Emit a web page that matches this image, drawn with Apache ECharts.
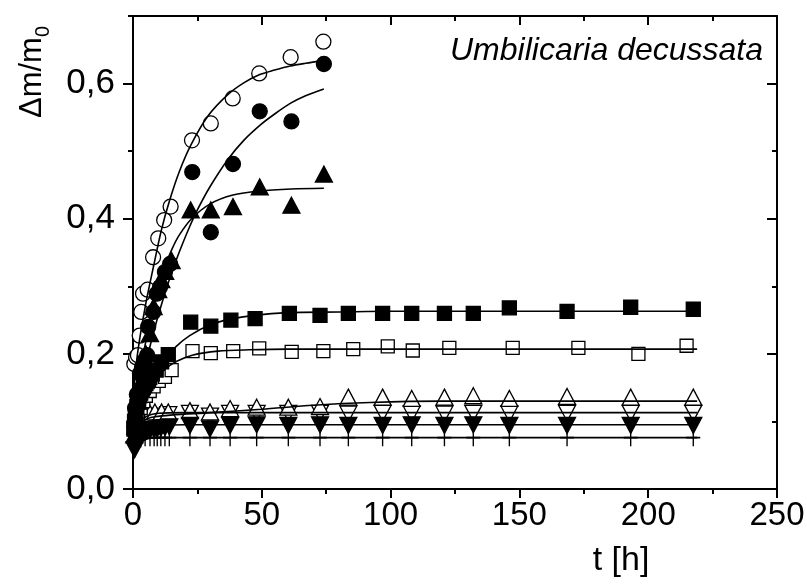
<!DOCTYPE html>
<html>
<head>
<meta charset="utf-8">
<script src="https://cdn.jsdelivr.net/npm/echarts@6/dist/echarts.min.js"></script>
<style>
html,body{margin:0;padding:0;background:#fff}
#main{width:807px;height:586px}
</style>
</head>
<body>
<div id="main"></div>
<script>
// measured points, t [h] and dm/m0
var ocT = [0.5, 1.2, 1.9, 2.6, 3.2, 3.9, 5.7, 7.8, 9.8, 12.1, 14.6, 22.9, 30.2, 38.7, 49.0, 61.2, 73.9];
var ocY = [0.185, 0.195, 0.198, 0.227, 0.262, 0.289, 0.295, 0.343, 0.371, 0.398, 0.418, 0.516, 0.541, 0.578, 0.615, 0.639, 0.662];
var fcT = [0.8, 1.5, 2.7, 3.5, 4.5, 5.5, 5.9, 7.9, 9.2, 10.5, 12.4, 14.4, 23.0, 30.2, 38.8, 49.2, 61.5, 74.1];
var fcY = [0.12, 0.14, 0.171, 0.18, 0.19, 0.198, 0.240, 0.262, 0.289, 0.299, 0.321, 0.333, 0.469, 0.380, 0.481, 0.559, 0.544, 0.629];
var ftT = [0.5, 1.2, 2.0, 3.0, 4.0, 5.0, 6.6, 8.0, 9.8, 11.0, 12.5, 15.0, 22.4, 30.2, 38.8, 49.2, 61.5, 74.1];
var ftY = [0.08, 0.11, 0.13, 0.15, 0.175, 0.2, 0.23, 0.27, 0.295, 0.31, 0.322, 0.338, 0.413, 0.413, 0.418, 0.447, 0.420, 0.466];
var fsT = [0.3, 0.6, 0.9, 1.2, 1.5, 1.8, 2.2, 2.6, 3.0, 3.5, 4.0, 4.5, 5.0, 5.5, 6.0, 6.5, 7.5, 9.0, 11.1, 13.7, 22.4, 30.2, 38.0, 47.4, 60.7, 72.6, 83.6, 96.9, 108.2, 120.9, 132.1, 146.1, 168.5, 193.2, 217.5];
var fsY = [0.09, 0.10, 0.108, 0.115, 0.122, 0.128, 0.133, 0.138, 0.142, 0.146, 0.15, 0.153, 0.156, 0.159, 0.162, 0.165, 0.17, 0.176, 0.188, 0.199, 0.247, 0.241, 0.250, 0.252, 0.260, 0.257, 0.260, 0.260, 0.260, 0.260, 0.260, 0.268, 0.263, 0.269, 0.266];
var osT = [0.5, 1.0, 2.0, 3.0, 4.0, 5.0, 6.5, 8.0, 10.0, 12.4, 15.0, 23.1, 30.2, 38.9, 49.0, 61.6, 73.9, 85.5, 98.9, 108.6, 122.8, 147.4, 172.9, 196.2, 214.9];
var osY = [0.09, 0.10, 0.11, 0.12, 0.13, 0.138, 0.145, 0.152, 0.16, 0.166, 0.176, 0.204, 0.201, 0.204, 0.208, 0.203, 0.204, 0.207, 0.211, 0.205, 0.209, 0.209, 0.209, 0.200, 0.212];
var ouT = [1.0, 2.0, 3.0, 4.0, 5.0, 6.6, 8.5, 11.1, 13.7, 22.1, 29.9, 37.7, 48.0, 60.3, 72.6, 83.6, 96.9, 108.2, 120.9, 132.1, 146.1, 168.5, 193.2, 217.5];
var ouY = [0.09, 0.095, 0.10, 0.105, 0.108, 0.112, 0.114, 0.114, 0.114, 0.116, 0.114, 0.119, 0.121, 0.121, 0.122, 0.136, 0.136, 0.134, 0.136, 0.138, 0.134, 0.137, 0.136, 0.136];
var odT = [1.0, 2.0, 3.0, 4.0, 5.0, 6.6, 8.5, 11.1, 13.7, 22.1, 29.9, 37.7, 48.0, 60.3, 72.6, 83.6, 96.9, 108.2, 120.9, 132.1, 146.1, 168.5, 193.2, 217.5];
var odY = [0.08, 0.085, 0.09, 0.095, 0.1, 0.103, 0.106, 0.108, 0.11, 0.112, 0.108, 0.112, 0.112, 0.112, 0.112, 0.111, 0.112, 0.111, 0.111, 0.112, 0.111, 0.112, 0.112, 0.112];
var fdT = [0.6, 1.0, 2.0, 3.0, 4.0, 5.0, 6.6, 8.2, 9.4, 10.8, 12.4, 14.1, 22.1, 29.9, 37.7, 48.0, 60.3, 72.6, 83.6, 96.9, 108.2, 120.9, 132.1, 146.1, 168.5, 193.2, 217.5];
var fdY = [0.058, 0.07, 0.075, 0.08, 0.083, 0.085, 0.087, 0.088, 0.089, 0.090, 0.091, 0.092, 0.094, 0.089, 0.094, 0.095, 0.094, 0.095, 0.094, 0.094, 0.095, 0.094, 0.095, 0.094, 0.094, 0.094, 0.094];
var plT = [1.0, 2.0, 3.0, 4.7, 6.6, 8.2, 9.4, 10.8, 12.4, 14.1, 22.1, 29.9, 37.7, 48.0, 60.3, 72.6, 83.6, 96.9, 108.2, 120.9, 132.1, 146.1, 168.5, 193.2, 217.5];
var plY = [0.068, 0.072, 0.074, 0.076, 0.076, 0.076, 0.076, 0.076, 0.076, 0.076, 0.076, 0.076, 0.076, 0.076, 0.076, 0.076, 0.076, 0.076, 0.076, 0.076, 0.076, 0.076, 0.076, 0.076, 0.076];

// fitted curves
var ocFitT = [0.3, 2, 5, 8, 11, 14.2, 18, 22.6, 29.1, 36.9, 43, 49, 55, 61, 67, 74];
var ocFitY = [0.15, 0.207, 0.275, 0.33, 0.383, 0.427, 0.47, 0.51, 0.552, 0.584, 0.601, 0.613, 0.62, 0.626, 0.63, 0.634];
var fcFitT = [0.3, 3, 6, 9, 12, 15, 18, 21.4, 25, 30, 36.9, 43, 49.8, 55, 61.2, 67, 74.1];
var fcFitY = [0.1, 0.154, 0.202, 0.246, 0.285, 0.32, 0.351, 0.383, 0.413, 0.448, 0.488, 0.516, 0.54, 0.555, 0.571, 0.582, 0.592];
var ftFitT = [0.3, 3, 6, 9, 12, 15, 18, 23, 30, 38.8, 49, 61.5, 74.1];
var ftFitY = [0.1, 0.175, 0.239, 0.288, 0.326, 0.354, 0.376, 0.401, 0.422, 0.435, 0.441, 0.444, 0.445];
var fsFitT = [0.3, 3, 6, 9, 12.3, 16.8, 22, 30, 37.4, 47, 60, 80, 100, 150, 219];
var fsFitY = [0.092, 0.123, 0.15, 0.172, 0.191, 0.211, 0.227, 0.243, 0.251, 0.257, 0.261, 0.262, 0.263, 0.263, 0.263];
var osFitT = [0.3, 4, 8, 12.3, 17, 23, 33, 45, 60, 100, 150, 219];
var osFitY = [0.094, 0.132, 0.159, 0.177, 0.189, 0.198, 0.204, 0.206, 0.207, 0.207, 0.207, 0.207];
var ouFitT = [0.3, 3, 8.5, 30, 50, 70, 92, 120, 160, 219];
var ouFitY = [0.08, 0.098, 0.107, 0.113, 0.118, 0.124, 0.128, 0.130, 0.130, 0.130];
var odFitT = [0.3, 2, 5, 10, 20, 60, 219];
var odFitY = [0.07, 0.095, 0.107, 0.112, 0.113, 0.113, 0.113];
var fdFitT = [0.3, 2, 5, 10, 20, 60, 219];
var fdFitY = [0.06, 0.08, 0.089, 0.093, 0.095, 0.095, 0.095];
var plFitT = [0.3, 2, 5, 10, 60, 219];
var plFitY = [0.062, 0.07, 0.074, 0.076, 0.076, 0.076];

var yMajor = [0, 0.2, 0.4, 0.6];
var FONT = 'Liberation Sans';

function pairs(t, y) {
  return t.map(function (v, i) { return [v, y[i]]; });
}

function marks(name, t, y, symbol, size, filled, rotate) {
  return {
    name: name,
    type: 'scatter',
    data: pairs(t, y),
    symbol: symbol,
    symbolSize: size,
    symbolRotate: rotate || 0,
    itemStyle: {
      color: filled ? '#000' : '#fff',
      borderColor: '#000',
      borderWidth: 1.3,
      opacity: 1
    },
    silent: true
  };
}

function fit(t, y) {
  return {
    type: 'line',
    data: pairs(t, y),
    showSymbol: false,
    smooth: 0.3,
    lineStyle: { color: '#000', width: 1.6 },
    silent: true,
    z: 5
  };
}

var plus = marks('plus', plT, plY, 'path://M5,0L5,10M0,5L10,5', [14, 17], false);
plus.itemStyle.color = 'rgba(0,0,0,0)';
plus.itemStyle.borderWidth = 1.5;

var axLine = { onZero: false, lineStyle: { color: '#000', width: 2 } };
var tickStyle = { color: '#000', width: 2 };

var chart = echarts.init(document.getElementById('main'));
var option = {
  animation: false,
  grid: [
    { left: 133, right: 30, top: 16, bottom: 97, outerBoundsMode: 'none' },
    { left: 133, right: 30, top: 16, bottom: 97, outerBoundsMode: 'none' }
  ],
  xAxis: [
    {
      type: 'value', gridIndex: 0, position: 'bottom', min: 0, max: 250, interval: 50,
      axisLine: axLine,
      axisTick: { length: 9, lineStyle: tickStyle },
      minorTick: { show: true, splitNumber: 2, length: 5, lineStyle: tickStyle },
      axisLabel: { fontSize: 33, fontFamily: FONT, color: '#000', margin: 10 },
      splitLine: { show: false }
    },
    {
      type: 'value', gridIndex: 0, position: 'top', min: 0, max: 250, interval: 50,
      axisLine: axLine,
      axisTick: { inside: true, length: 9, lineStyle: tickStyle },
      minorTick: { show: true, splitNumber: 2, length: 5, lineStyle: tickStyle },
      axisLabel: { show: false },
      splitLine: { show: false }
    },
    { type: 'value', gridIndex: 1, min: 0, max: 250, show: false }
  ],
  yAxis: [
    {
      type: 'value', gridIndex: 0, position: 'left', min: 0, max: 0.7, interval: 0.1,
      axisLine: axLine,
      axisTick: { length: 10, lineStyle: tickStyle, customValues: yMajor },
      axisLabel: {
        customValues: yMajor,
        fontSize: 35, fontFamily: FONT, color: '#000', margin: 18,
        formatter: function (v) { return v.toFixed(1).replace('.', ','); }
      },
      splitLine: { show: false }
    },
    {
      type: 'value', gridIndex: 0, position: 'right', min: 0, max: 0.7, interval: 0.1,
      axisLine: axLine,
      axisTick: { inside: true, length: 10, lineStyle: tickStyle, customValues: yMajor },
      axisLabel: { show: false },
      splitLine: { show: false }
    },
    {
      type: 'value', gridIndex: 1, position: 'left', min: 0, max: 0.7, interval: 0.1,
      axisLine: { show: false, onZero: false },
      axisTick: { length: 5, lineStyle: tickStyle },
      axisLabel: { show: false },
      splitLine: { show: false }
    },
    {
      type: 'value', gridIndex: 1, position: 'right', min: 0, max: 0.7, interval: 0.1,
      axisLine: { show: false, onZero: false },
      axisTick: { inside: true, length: 5, lineStyle: tickStyle },
      axisLabel: { show: false },
      splitLine: { show: false }
    }
  ],
  series: [
    plus,
    marks('od', odT, odY, 'triangle', [17, 16], false, 180),
    marks('ou', ouT, ouY, 'triangle', [17, 16], false),
    marks('fd', fdT, fdY, 'triangle', [17, 16], true, 180),
    marks('os', osT, osY, 'rect', 13, false),
    marks('fs', fsT, fsY, 'rect', 14, true),
    marks('oc', ocT, ocY, 'circle', 15, false),
    marks('fc', fcT, fcY, 'circle', 15, true),
    marks('ft', ftT, ftY, 'triangle', [17, 16], true),
    fit(ocFitT, ocFitY),
    fit(fcFitT, fcFitY),
    fit(ftFitT, ftFitY),
    fit(fsFitT, fsFitY),
    fit(osFitT, osFitY),
    fit(ouFitT, ouFitY),
    fit(odFitT, odFitY),
    fit(fdFitT, fdFitY),
    fit(plFitT, plFitY)
  ],
  graphic: [
    {
      type: 'text', x: 763, y: 51,
      style: { text: 'Umbilicaria decussata', font: 'italic 32px "Liberation Sans"', fill: '#000', align: 'right', verticalAlign: 'middle' }
    },
    {
      type: 'text', x: 621, y: 561,
      style: { text: 't [h]', font: '34px "Liberation Sans"', fill: '#000', align: 'center', verticalAlign: 'middle' }
    },
    {
      type: 'text', x: 32, y: 72, rotation: Math.PI / 2,
      style: {
        text: '{m|Δm/m}{s|0}',
        fill: '#000', align: 'center', verticalAlign: 'middle',
        rich: {
          m: { fontSize: 31, fontFamily: FONT, lineHeight: 42, fill: '#000' },
          s: { fontSize: 20, fontFamily: FONT, lineHeight: 20, verticalAlign: 'bottom', fill: '#000' }
        }
      }
    }
  ]
};
chart.setOption(option);
</script>
</body>
</html>
